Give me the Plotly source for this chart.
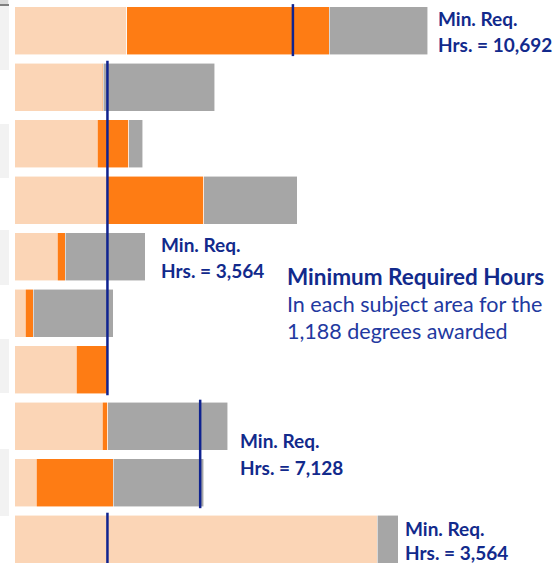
import plotly.graph_objects as go

# ---- data (rows top to bottom) ----
rows = list(range(10))
completed_hours = [4304, 3360, 3174, 3574, 1637, 407, 2356, 3367, 819, 13935]
in_progress_hours = [7775, 50, 1218, 3690, 307, 307, 1218, 208, 2971, 0]
remaining_hours = [3793, 4276, 527, 3586, 3075, 3075, 0, 4612, 3474, 807]

# minimum required hours, with the first and last row each line covers
min_req_values = [10692, 3564, 7128, 3564]
min_req_first_row = [0, 1, 7, 9]
min_req_last_row = [0, 6, 8, 9]
min_req_labels = ["10,692", "3,564", "7,128", "3,564"]

W, H = 553, 563
NAVY = "#0F2390"
TXT = "#122A8C"
TXT2 = "#2239A0"

fig = go.Figure()
seg_colors = ["#FBD5B6", "#FE7C14", "#A6A6A6"]
for vals, col, name in zip([completed_hours, in_progress_hours, remaining_hours], seg_colors,
                           ["Completed", "In progress", "Remaining"]):
    fig.add_trace(go.Bar(
        y=rows, x=vals, orientation="h", name=name, width=0.85,
        marker=dict(color=col, line=dict(color="rgba(255,255,255,0.7)", width=0.8)),
        hoverinfo="x", showlegend=False,
    ))

for v, r0, r1 in zip(min_req_values, min_req_first_row, min_req_last_row):
    fig.add_trace(go.Scatter(
        x=[v, v], y=[r0 - 0.47, r1 + 0.45], mode="lines",
        line=dict(color=NAVY, width=2.5), showlegend=False, hoverinfo="skip",
    ))

# left-edge fragments of the cropped panel
strips = [(0, 70), (124, 178), (230, 285), (339, 393), (449, 516)]
shapes = []
for a, b in strips:
    shapes.append(dict(type="rect", xref="paper", yref="paper", x0=0, x1=9 / W,
                       y0=1 - b / H, y1=1 - a / H, fillcolor="#F2F2F2", line=dict(width=0),
                       layer="below"))
shapes.append(dict(type="rect", xref="paper", yref="paper", x0=0, x1=9 / W,
                   y0=1 - 6 / H, y1=1 - 4 / H, fillcolor="#7F7F7F", line=dict(width=0)))
shapes.append(dict(type="rect", xref="paper", yref="paper", x0=0, x1=8 / W,
                   y0=1 - 4 / H, y1=1, fillcolor="#D9D9D9", line=dict(width=0)))

ann = []
def txt(x, y, s, size=19, bold=True, color=TXT):
    ann.append(dict(xref="paper", yref="paper", x=x / W, y=1 - y / H, xanchor="left",
                    yanchor="middle", showarrow=False,
                    text=f"<b>{s}</b>" if bold else s,
                    font=dict(family="Lato, Open Sans, sans-serif", size=size, color=color)))

label_pos = [(436, 18, 45), (159, 245, 270), (238, 440, 467), (403, 528, 552)]
for (x, y1, y2), lab in zip(label_pos, min_req_labels):
    txt(x, y1, "Min. Req.")
    txt(x, y2, f"Hrs. = {lab}")

txt(285, 277, "Minimum Required Hours", size=22.5)
txt(285, 304, "In each subject area for the", size=21.5, bold=False, color=TXT2)
txt(285, 331, "1,188 degrees awarded", size=21.5, bold=False, color=TXT2)

fig.update_layout(
    width=W, height=H, margin=dict(l=0, r=0, t=0, b=0),
    barmode="stack", bargap=0.15,
    plot_bgcolor="white", paper_bgcolor="white",
    xaxis=dict(range=[-565, 20688], visible=False, showgrid=False, zeroline=False),
    yaxis=dict(range=[9.42, -0.543], visible=False, showgrid=False, zeroline=False),
    shapes=shapes, annotations=ann,
)

fig.write_html("out.html", config={"displayModeBar": False},
               post_script="document.body.style.margin='0';document.body.style.overflow='hidden';")
